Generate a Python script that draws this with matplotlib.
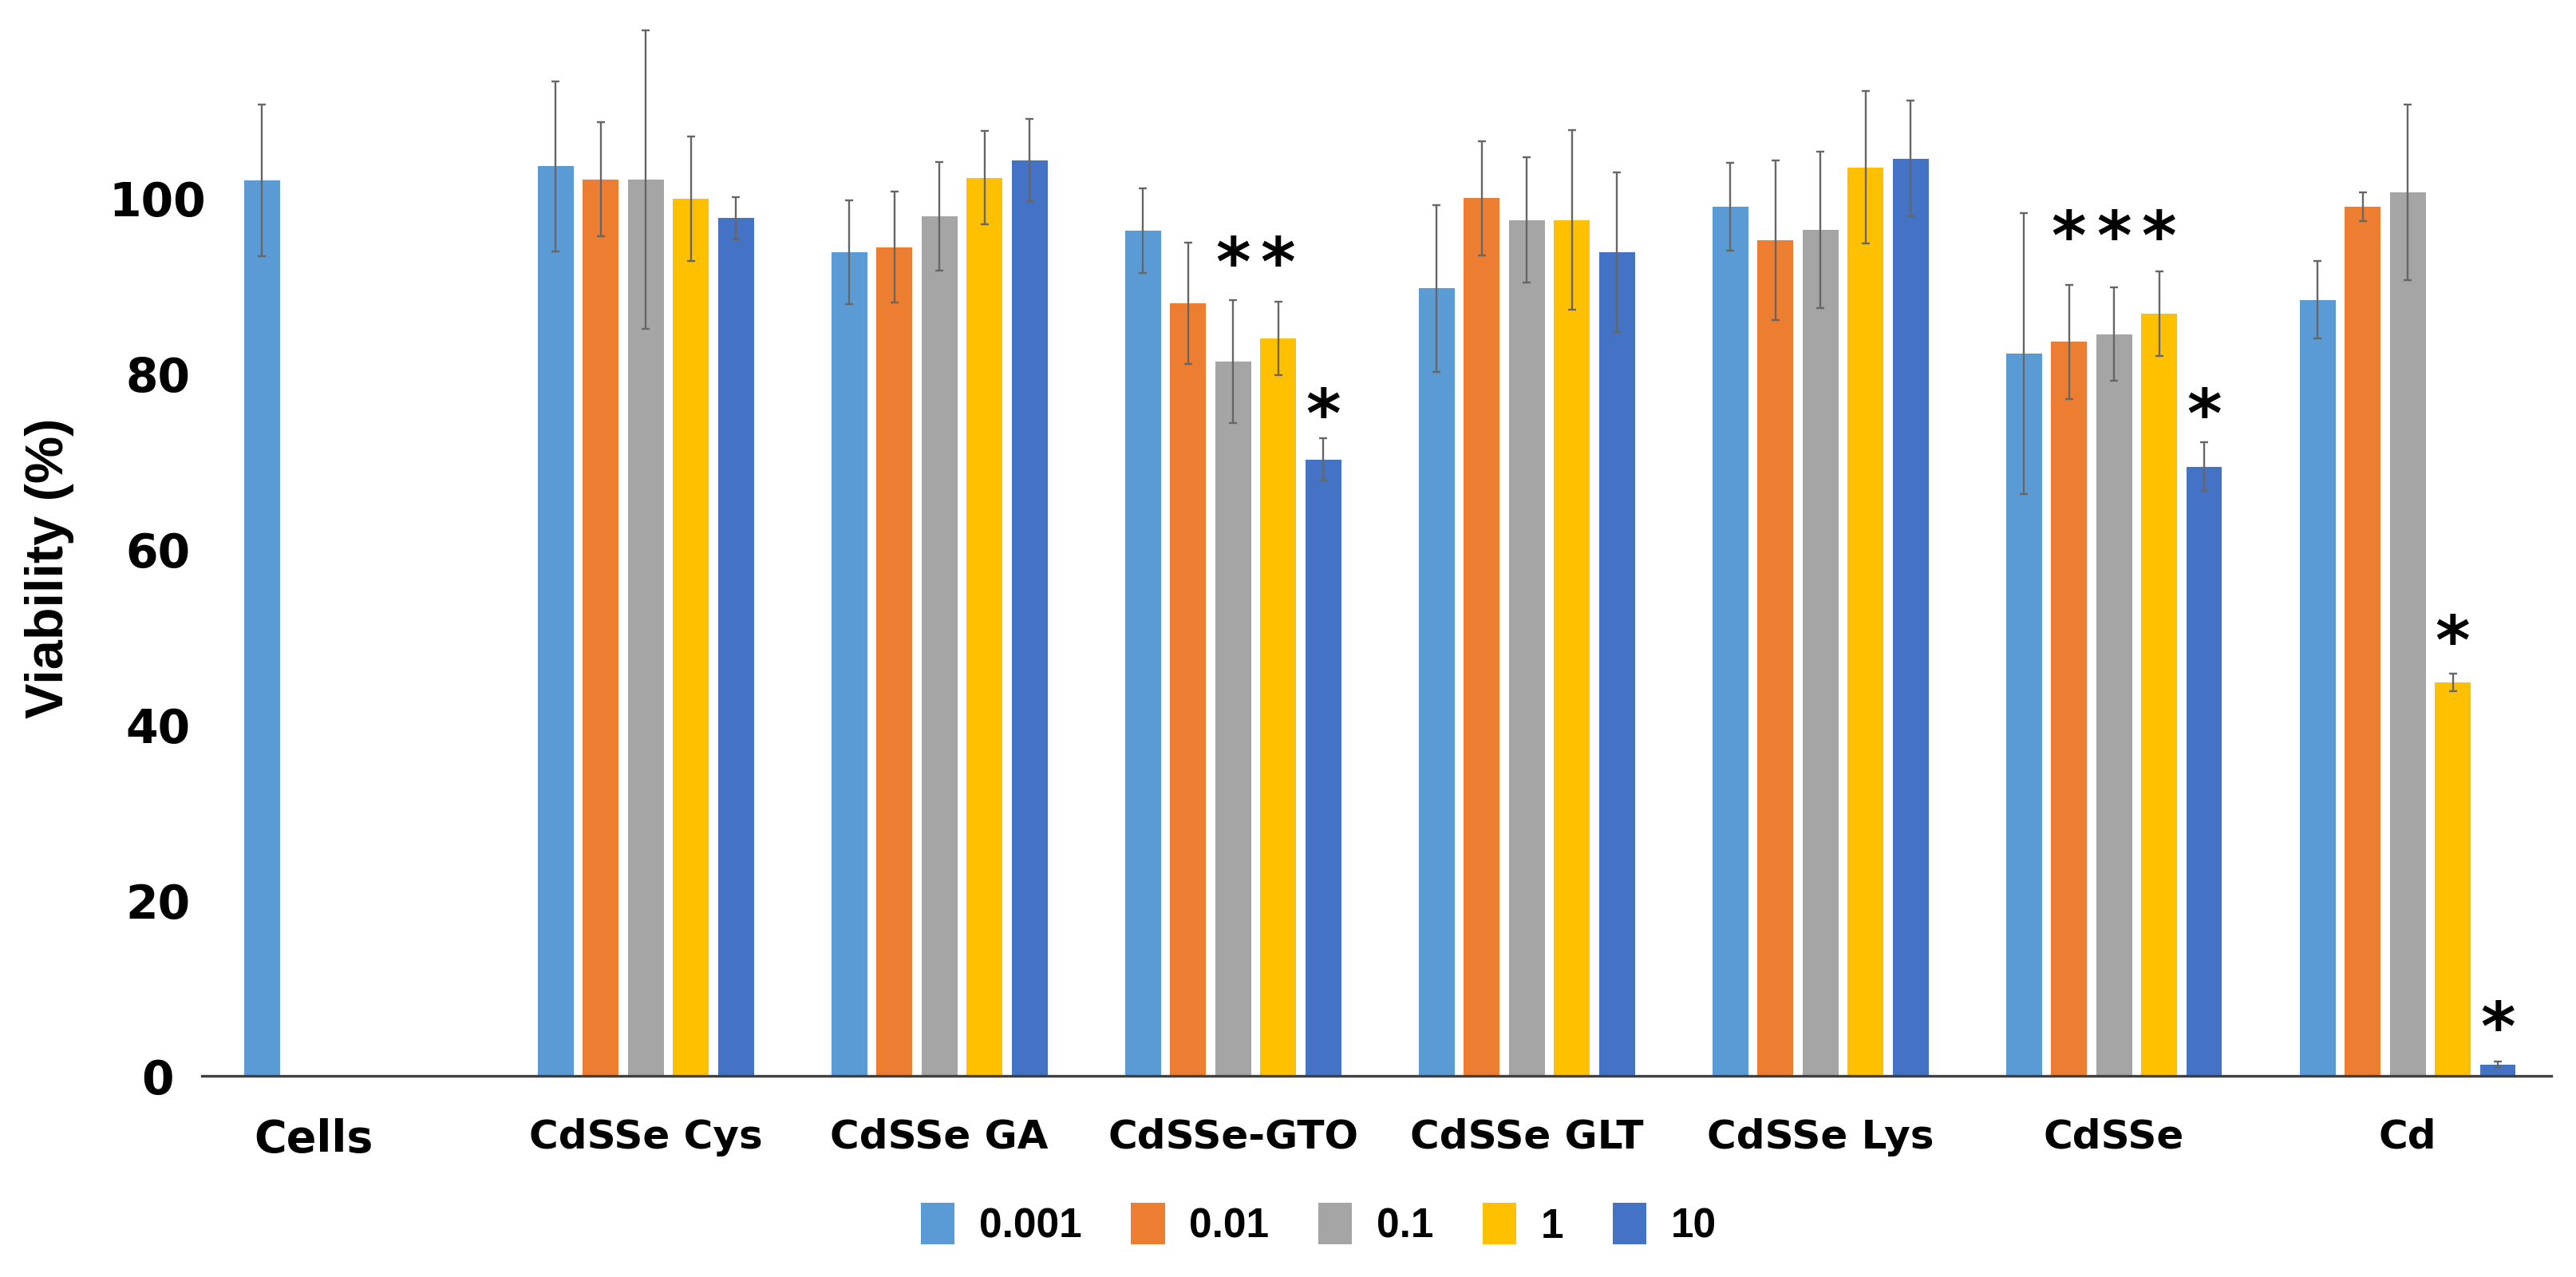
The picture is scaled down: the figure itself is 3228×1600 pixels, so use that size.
import numpy as np
import matplotlib
matplotlib.use("Agg")
import matplotlib.pyplot as plt
import matplotlib.transforms as mtransforms

# Dados (viabilidade %, média e desvio)
categorias = ["Cells", "CdSSe Cys", "CdSSe GA", "CdSSe-GTO", "CdSSe GLT", "CdSSe Lys", "CdSSe", "Cd"]
concentracoes = ["0.001", "0.01", "0.1", "1", "10"]
nan = np.nan

v_0001 = [102.0, 103.6, 93.8, 96.3, 89.7, 99.0, 82.3, 88.4]
v_001 = [nan, 102.1, 94.4, 88.0, 100.0, 95.2, 83.6, 99.0]
v_01 = [nan, 102.1, 97.9, 81.4, 97.5, 96.4, 84.5, 100.6]
v_1 = [nan, 99.9, 102.3, 84.0, 97.5, 103.5, 86.8, 44.8]
v_10 = [nan, 97.7, 104.3, 70.2, 93.8, 104.5, 69.4, 1.3]

e_0001 = [8.6, 9.7, 5.9, 4.8, 9.5, 5.0, 16.0, 4.4]
e_001 = [nan, 6.5, 6.3, 6.9, 6.5, 9.1, 6.5, 1.6]
e_01 = [nan, 17.0, 6.2, 7.0, 7.1, 8.9, 5.3, 10.0]
e_1 = [nan, 7.1, 5.3, 4.2, 10.2, 8.7, 4.8, 1.0]
e_10 = [nan, 2.4, 4.7, 2.4, 9.1, 6.6, 2.8, 0.3]

# asteriscos de significância: grupo, série, altura
sig_grupo = [3, 3, 3, 6, 6, 6, 6, 7, 7]
sig_serie = [2, 3, 4, 1, 2, 3, 4, 3, 4]
sig_y = [94.5, 94.5, 77.2, 97.5, 97.5, 97.5, 77.2, 51.4, 7.4]

valores = [v_0001, v_001, v_01, v_1, v_10]
erros = [e_0001, e_001, e_01, e_1, e_10]
cores = ["#5B9BD5", "#ED7D31", "#A5A5A5", "#FFC000", "#4472C4"]

fig = plt.figure(figsize=(16.14, 8.0), dpi=200)
ax = fig.add_axes([0.0784, 0.1575, 0.912, 0.83875])

x = np.arange(len(categorias))
passo = 0.1535
largura = 0.122

for i, (vals, errs) in enumerate(zip(valores, erros)):
    pos = x + (i - 2) * passo
    ax.bar(pos, vals, largura, color=cores[i], label=concentracoes[i], zorder=2)
    ax.errorbar(pos, vals, yerr=errs, fmt="none", ecolor="#666666", elinewidth=0.85,
                capsize=1.8, capthick=0.85, zorder=3)

fs_ast = 30
for g, s, yy in zip(sig_grupo, sig_serie, sig_y):
    ax.annotate("*", (x[g] + (s - 2) * passo, yy), xytext=(0, -0.58 * fs_ast),
                textcoords="offset points", ha="center", va="baseline",
                fontsize=fs_ast, fontweight="bold", family="DejaVu Sans")

ax.set_xlim(-0.511, 7.489)
ax.set_ylim(0, 122)

for lado in ["top", "right", "left"]:
    ax.spines[lado].set_visible(False)
ax.spines["bottom"].set_color("#404040")
ax.spines["bottom"].set_linewidth(1.2)

ax.set_yticks([0, 20, 40, 60, 80, 100])
ax.tick_params(axis="y", length=0, pad=20, labelsize=21)
for lbl in ax.get_yticklabels():
    lbl.set_fontweight("bold")
    lbl.set_family("DejaVu Sans")
    lbl.set_horizontalalignment("center")

ax.set_xticks(x)
ax.set_xticklabels(categorias, fontsize=18, fontweight="bold", family="DejaVu Sans")
ax.tick_params(axis="x", length=0, pad=19)
lbl_cells = ax.get_xticklabels()[0]
lbl_cells.set_fontsize(20)
# no original o rótulo "Cells" fica um pouco à esquerda do centro do grupo
lbl_cells.set_transform(lbl_cells.get_transform() +
                        mtransforms.ScaledTranslation(-0.24, 0, fig.dpi_scale_trans))

ax.set_ylabel("Viability (%)", fontsize=24, fontweight="bold",
              family=["Liberation Sans Narrow", "Liberation Sans"])
ax.yaxis.set_label_coords(-0.0649, 0.474)
ax.yaxis.label.set_verticalalignment("center")

leg = fig.legend(loc="center", bbox_to_anchor=(0.512, 0.041), ncol=5, frameon=False,
                 prop={"family": "Liberation Sans", "weight": "bold", "size": 18.5},
                 handlelength=0.82, handleheight=1.17, handletextpad=0.6, columnspacing=1.2)

fig.savefig("out.png", dpi=200)
